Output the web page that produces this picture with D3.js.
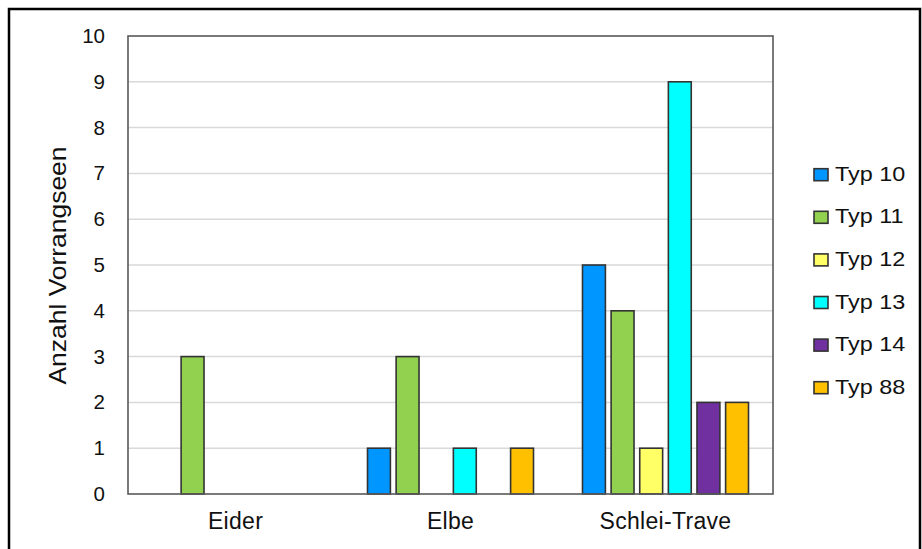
<!DOCTYPE html>
<html>
<head>
<meta charset="utf-8">
<script src="https://cdn.jsdelivr.net/npm/d3@7"></script>
<style>
  html, body { margin: 0; padding: 0; background: #fff; }
  svg { display: block; font-family: "Liberation Sans", Arial, sans-serif; }
</style>
</head>
<body>
<svg id="chart" width="922" height="549"></svg>
<script>
// Lake regions and counts of priority lakes per lake type
const categories = ["Eider", "Elbe", "Schlei-Trave"];
const seriesNames = ["Typ 10", "Typ 11", "Typ 12", "Typ 13", "Typ 14", "Typ 88"];
const typ10 = [0, 1, 5];
const typ11 = [3, 3, 4];
const typ12 = [0, 0, 1];
const typ13 = [0, 1, 9];
const typ14 = [0, 0, 2];
const typ88 = [0, 1, 2];
const seriesValues = [typ10, typ11, typ12, typ13, typ14, typ88];
const seriesColors = ["#0096ff", "#92d050", "#ffff66", "#00ffff", "#7030a0", "#ffc000"];
const yTicks = [0, 1, 2, 3, 4, 5, 6, 7, 8, 9, 10];
const yTitle = "Anzahl Vorrangseen";

const svg = d3.select("#chart");

// outer frame
svg.append("rect")
  .attr("x", 9).attr("y", 9).attr("width", 911).attr("height", 545)
  .attr("fill", "#fff").attr("stroke", "#000").attr("stroke-width", 2.5);

const plot = { left: 128, right: 773, top: 36, bottom: 494 };

const x0 = d3.scaleBand().domain(categories).range([plot.left, plot.right]).padding(0);
const groupPad = 24.5;
const x1 = d3.scaleBand().domain(seriesNames)
  .range([groupPad, x0.bandwidth() - groupPad])
  .paddingInner(0.2).paddingOuter(0);
const y = d3.scaleLinear().domain([0, 10]).range([plot.bottom, plot.top]);

// gridlines
svg.append("g").selectAll("line")
  .data(yTicks.filter(t => t > 0 && t < 10))
  .join("line")
  .attr("x1", plot.left).attr("x2", plot.right)
  .attr("y1", d => y(d)).attr("y2", d => y(d))
  .attr("stroke", "#d9d9d9").attr("stroke-width", 1.5);

// bars
const rows = [];
categories.forEach((c, ci) => {
  seriesNames.forEach((s, si) => {
    const v = seriesValues[si][ci];
    if (v > 0) rows.push({ c, s, v, color: seriesColors[si] });
  });
});
svg.append("g").selectAll("rect")
  .data(rows)
  .join("rect")
  .attr("x", d => x0(d.c) + x1(d.s))
  .attr("y", d => y(d.v))
  .attr("width", x1.bandwidth())
  .attr("height", d => y(0) - y(d.v))
  .attr("fill", d => d.color)
  .attr("stroke", "#333")
  .attr("stroke-width", 1.6);

// plot border
svg.append("rect")
  .attr("x", plot.left).attr("y", plot.top)
  .attr("width", plot.right - plot.left).attr("height", plot.bottom - plot.top)
  .attr("fill", "none").attr("stroke", "#595959").attr("stroke-width", 1.6);

// y axis labels
const yAxis = d3.axisLeft(y).tickValues(yTicks).tickSize(0).tickPadding(23).tickFormat(d3.format("d"));
const yg = svg.append("g").attr("transform", `translate(${plot.left},0)`).call(yAxis);
yg.select(".domain").remove();
yg.selectAll("text").attr("font-size", 20.5).attr("fill", "#111")
  .attr("font-family", "Liberation Sans, Arial, sans-serif");

// x axis labels
const xAxis = d3.axisBottom(x0).tickSize(0).tickPadding(18.7);
const xg = svg.append("g").attr("transform", `translate(0,${plot.bottom})`).call(xAxis);
xg.select(".domain").remove();
xg.selectAll("text").attr("font-size", 23).attr("fill", "#111")
  .attr("letter-spacing", 0.3)
  .attr("font-family", "Liberation Sans, Arial, sans-serif");

// y axis title
svg.append("text")
  .attr("transform", `translate(66,265.5) rotate(-90) scale(1.15,1)`)
  .attr("text-anchor", "middle")
  .attr("font-size", 23)
  .attr("fill", "#111")
  .text(yTitle);

// legend
const legend = svg.append("g");
const legendItems = legend.selectAll("g")
  .data(seriesNames)
  .join("g")
  .attr("transform", (d, i) => `translate(814,${173.7 + i * 42.6})`);
legendItems.append("rect")
  .attr("x", 0).attr("y", -5).attr("width", 14).attr("height", 12)
  .attr("fill", (d, i) => seriesColors[i])
  .attr("stroke", "#333").attr("stroke-width", 1.6);
legendItems.append("text")
  .attr("transform", "translate(21,7) scale(1.17,1)")
  .attr("font-size", 20)
  .attr("fill", "#111")
  .text(d => d);
</script>
</body>
</html>
